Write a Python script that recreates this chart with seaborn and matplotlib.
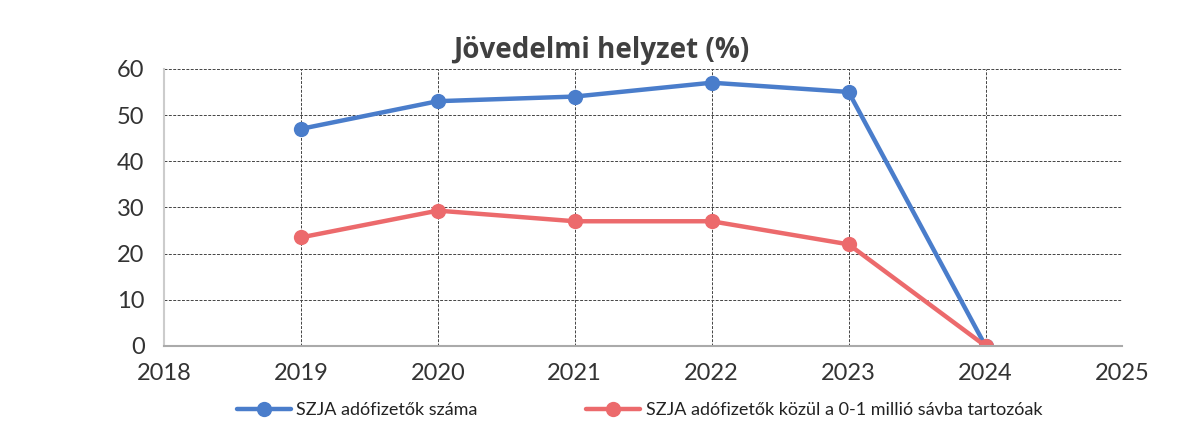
import pandas as pd
import matplotlib.pyplot as plt
import seaborn as sns

# --- Dados ---
anos = [2019, 2020, 2021, 2022, 2023, 2024]
szja_szama = [47, 53, 54, 57, 55, 0]
szja_0_1_millio = [23.5, 29.3, 27, 27, 22, 0]
nev_kek = "SZJA adófizetők száma"
nev_piros = "SZJA adófizetők közül a 0-1 millió sávba tartozóak"
cim = "Jövedelmi helyzet (%)"

df = pd.DataFrame({
    "Ev": anos * 2,
    "Ertek": szja_szama + szja_0_1_millio,
    "Sorozat": [nev_kek] * len(anos) + [nev_piros] * len(anos),
})

sns.set_theme(style="white")
plt.rcParams['font.family'] = ['Lato', 'DejaVu Sans']

fig = plt.figure(figsize=(11.84, 4.25), dpi=100)
ax = fig.add_axes([0.1385, 0.186, 0.8095, 0.652])

cores = {nev_kek: '#4A7DCB', nev_piros: '#EC6A6C'}
sns.lineplot(data=df, x="Ev", y="Ertek", hue="Sorozat", palette=cores, marker='o',
             markersize=11, markeredgewidth=0, linewidth=3.2, ax=ax)

ax.set_xlim(2018, 2025)
ax.set_ylim(0, 60)
ax.set_xticks(range(2018, 2026))
ax.set_yticks(range(0, 61, 10))
ax.grid(True, color='#444444', linestyle=(0, (3, 1.5)), linewidth=0.7)
ax.set_axisbelow(True)
for lado in ['top', 'right']:
    ax.spines[lado].set_visible(False)
ax.spines['left'].set_color('#cccccc')
ax.spines['bottom'].set_color('#aaaaaa')
ax.spines['left'].set_linewidth(1.5)
ax.spines['bottom'].set_linewidth(1.5)
ax.tick_params(axis='both', labelsize=17, colors='#333333', length=0)
ax.tick_params(axis='x', pad=12)
ax.tick_params(axis='y', pad=14)
ax.set_xlabel('')
ax.set_ylabel('')

fig.text(0.508, 0.882, cim, ha='center', va='center', fontsize=20,
         fontweight='bold', color='#404040', family=['Open Sans', 'DejaVu Sans'])

handles, labels = ax.get_legend_handles_labels()
ax.legend(handles, labels, loc='center', bbox_to_anchor=(0.54, 0.035), bbox_transform=fig.transFigure,
          ncol=2, frameon=False, fontsize=13, columnspacing=6, handlelength=3, handletextpad=0.3,
          labelcolor='#222222')

plt.savefig('out.png', dpi=100)
plt.close()
